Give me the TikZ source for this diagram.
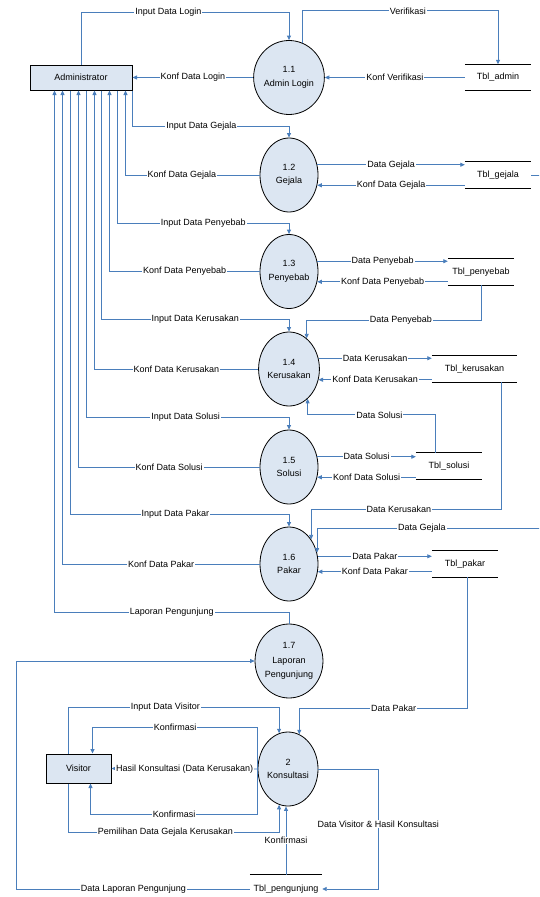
\documentclass[tikz,border=0pt]{standalone}
\usepackage{fontspec}
\setmainfont{Liberation Sans}
\usetikzlibrary{arrows.meta,calc,shapes.geometric}
\definecolor{flowblue}{RGB}{74,126,187}
\definecolor{bubblefill}{RGB}{220,230,242}

\begin{document}
\begin{tikzpicture}[x=1pt, y=-1pt, font=\fontsize{9}{11}\selectfont,
    flow/.style={draw=flowblue, line width=0.8pt, -{Triangle[length=4.5pt,width=4pt]}},
    lbl/.style={fill=white, inner xsep=1pt, inner ysep=0.5pt},
    proc/.style={ellipse, draw, fill=bubblefill, line width=0.8pt, minimum width=58pt,
      minimum height=74pt, inner sep=0pt, align=center, font=\fontsize{9}{13.5}\selectfont},
    entity/.style={rectangle, draw, fill=bubblefill, line width=1pt, inner sep=0pt},
    datastore/.style={rectangle, minimum width=66pt, minimum height=26pt, inner sep=0pt},
    storeline/.style={draw=black, line width=1pt}]

  \useasboundingbox (0,0) rectangle (539,897);

  % entities
  \node[entity, minimum width=102pt, minimum height=25pt] (adm) at (81,77.5) {Administrator};
  \node[entity, minimum width=65pt, minimum height=29pt] (vis) at (78.5,768.5) {Visitor};

  % processes
  \node[proc] (login) at (289,77.5) {1.1\\Admin Login};
  \node[proc] (gejala) at (289,175) {1.2\\Gejala};
  \node[proc] (penyebab) at (289,271.5) {1.3\\Penyebab};
  \node[proc] (kerusakan) at (289,369) {1.4\\Kerusakan};
  \node[proc] (solusi) at (289,467) {1.5\\Solusi};
  \node[proc] (pakar) at (289,564) {1.6\\Pakar};
  \node[proc, font=\fontsize{9}{14.5}\selectfont] (laporan) at (289,661) {1.7\\Laporan\\Pengunjung};
  \node[proc, minimum width=60pt] (konsul) at (288,769) {2\\Konsultasi};

  % data stores
  \node[datastore] (tadmin) at (498,77.5) {Tbl\_admin};
  \node[datastore] (tgejala) at (498,175) {Tbl\_gejala};
  \node[datastore] (tpenyebab) at (481,272) {Tbl\_penyebab};
  \node[datastore, minimum width=85pt] (tkerusakan) at (474.5,369) {Tbl\_kerusakan};
  \node[datastore] (tsolusi) at (449,466) {Tbl\_solusi};
  \node[datastore] (tpakar) at (465,564) {Tbl\_pakar};
  \node[datastore, minimum width=72pt, minimum height=28pt] (tpengunjung) at (286,889) {Tbl\_pengunjung};
  \foreach \t in {tadmin,tgejala,tpenyebab,tkerusakan,tsolusi,tpakar}
    \draw[storeline] (\t.north west) -- (\t.north east) (\t.south west) -- (\t.south east);
  \draw[storeline] (tpengunjung.north west) -- (tpengunjung.north east);

  % administrator <-> processes
  \draw[flow] (adm.north) -- ++(0,-52) -| node[lbl,pos=0.21]{Input Data Login} (login.north);
  \draw[flow] (login.west) -- node[lbl]{Konf Data Login} (adm.east);
  \draw[flow] (adm.south east) -- ++(0,36) -| node[lbl,pos=0.22]{Input Data Gejala} (gejala.north);
  \draw[flow] (gejala.west) -| node[lbl,pos=0.29]{Konf Data Gejala} ($(adm.south west)+(96,0)$);
  \draw[flow] ($(adm.south west)+(88,0)$) -- ++(0,133) -| node[lbl,pos=0.25]{Input Data Penyebab} (penyebab.north);
  \draw[flow] (penyebab.west) -| node[lbl,pos=0.25]{Konf Data Penyebab} ($(adm.south west)+(80,0)$);
  \draw[flow] ($(adm.south west)+(72,0)$) -- ++(0,229) -| node[lbl,pos=0.25]{Input Data Kerusakan} (kerusakan.north);
  \draw[flow] (kerusakan.west) -| node[lbl,pos=0.25]{Konf Data Kerusakan} ($(adm.south west)+(65,0)$);
  \draw[flow] ($(adm.south west)+(57,0)$) -- ++(0,327) -| node[lbl,pos=0.245]{Input Data Solusi} (solusi.north);
  \draw[flow] (solusi.west) -| node[lbl,pos=0.25]{Konf Data Solusi} ($(adm.south west)+(49,0)$);
  \draw[flow] ($(adm.south west)+(41,0)$) -- ++(0,424) -| node[lbl,pos=0.24]{Input Data Pakar} (pakar.north);
  \draw[flow] (pakar.west) -| node[lbl,pos=0.25]{Konf Data Pakar} ($(adm.south west)+(33,0)$);
  \draw[flow] (laporan.north) -- ++(0,-11) -| node[lbl,pos=0.25]{Laporan Pengunjung} ($(adm.south west)+(25,0)$);

  % processes <-> data stores
  \draw[flow] (login.69) -- ++(0,-32) -| node[lbl,pos=0.27]{Verifikasi} (tadmin.north);
  \draw[flow] (tadmin.west) -- node[lbl]{Konf Verifikasi} (login.east);
  \draw[flow] (gejala.20) -- node[lbl]{Data Gejala} (gejala.20 -| tgejala.west);
  \draw[flow] (tgejala.west |- gejala.-20) -- node[lbl]{Konf Data Gejala} (gejala.-20);
  \draw[flow] (penyebab.20) -- node[lbl]{Data Penyebab} (penyebab.20 -| tpenyebab.west);
  \draw[flow] (tpenyebab.west |- penyebab.-20) -- node[lbl]{Konf Data Penyebab} (penyebab.-20);
  \draw[flow] (tpenyebab.south) -- ++(0,35) -| node[lbl,pos=0.23]{Data Penyebab} (kerusakan.60);
  \draw[flow] (kerusakan.20) -- node[lbl]{Data Kerusakan} (kerusakan.20 -| tkerusakan.west);
  \draw[flow] (tkerusakan.west |- kerusakan.-20) -- node[lbl]{Konf Data Kerusakan} (kerusakan.-20);
  \draw[flow] ($(tsolusi.north west)+(20,0)$) -- ++(0,-38) -| node[lbl,pos=0.22]{Data Solusi} (kerusakan.-58);
  \draw[flow] (solusi.20) -- node[lbl]{Data Solusi} (solusi.20 -| tsolusi.west);
  \draw[flow] (tsolusi.west |- solusi.-20) -- node[lbl]{Konf Data Solusi} (solusi.-20);
  \draw[flow] ($(tkerusakan.south west)+(70,0)$) -- ++(0,127) -| node[lbl,pos=0.27]{Data Kerusakan} (pakar.48);
  \begin{scope}
    \clip (0,0) rectangle (539,897);
    \draw[flow] (tgejala.east) -- ++(14,0) -- ++(0,353) -| node[lbl,pos=0.27]{Data Gejala} (pakar.22);
  \end{scope}
  \draw[flow] (pakar.15) -- node[lbl]{Data Pakar} (pakar.15 -| tpakar.west);
  \draw[flow] (tpakar.west |- pakar.-15) -- node[lbl]{Konf Data Pakar} (pakar.-15);
  \draw[flow] ($(tpakar.south west)+(36,0)$) -- ++(0,131) -| node[lbl,pos=0.22]{Data Pakar} (konsul.72);

  % visitor <-> konsultasi
  \draw[flow] ($(vis.north west)+(23,0)$) -- ++(0,-46) -| node[lbl,pos=0.23]{Input Data Visitor} (konsul.104);
  \draw[flow] (konsul.west) -- ++(0,-42) -| node[lbl,pos=0.25]{Konfirmasi} ($(vis.north west)+(47,0)$);
  \draw[flow] (konsul.west) -- node[lbl]{Hasil Konsultasi (Data Kerusakan)} (vis.east);
  \draw[flow] (konsul.west) -- ++(0,45) -| node[lbl,pos=0.25]{Konfirmasi} ($(vis.south west)+(45,0)$);
  \draw[flow] ($(vis.south west)+(23,0)$) -- ++(0,49) -| node[lbl,pos=0.23]{Pemilihan Data Gejala Kerusakan} (konsul.-104);

  % konsultasi <-> tbl_pengunjung
  \draw[flow] (konsul.east) -| node[lbl,pos=0.73]{Data Visitor \& Hasil Konsultasi} ($(tpengunjung.east)+(56,0)$) -- (tpengunjung.east);
  \draw[flow] (tpengunjung.north) -- node[lbl]{Konfirmasi} (tpengunjung.north |- konsul.south);
  \draw[flow] (tpengunjung.west) -- node[lbl]{Data Laporan Pengunjung} ++(-233,0) |- (laporan.west);

\end{tikzpicture}
\end{document}
